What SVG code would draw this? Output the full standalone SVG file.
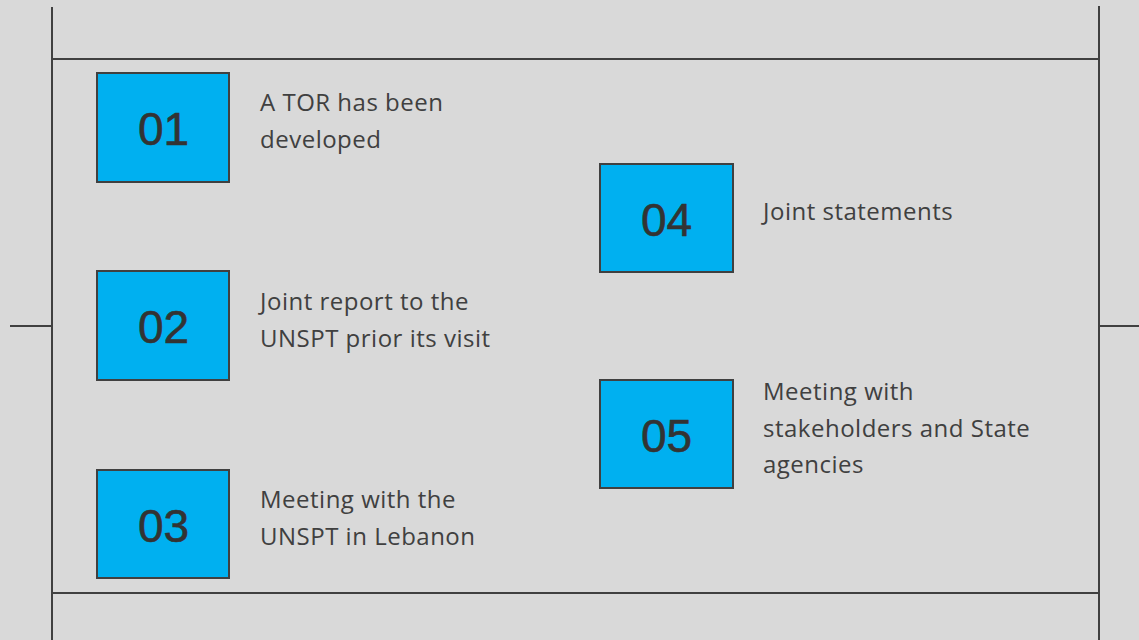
<svg xmlns="http://www.w3.org/2000/svg" width="1139" height="640" viewBox="0 0 1139 640">
<style>
.ln{stroke:#404040;stroke-width:2;fill:none}
.box{fill:#00b0f0;stroke:#404040;stroke-width:2}
.num{font-family:"Liberation Sans","Roboto",sans-serif;font-size:46px;fill:#333;stroke:#333;stroke-width:0.6;text-anchor:middle}
.lbl{font-family:"Open Sans","Noto Sans",sans-serif;font-size:24px;letter-spacing:0.5px;fill:#404040}
</style>
<rect width="1139" height="640" fill="#d9d9d9"/>
<g id="connectors">
<line class="ln" x1="52" y1="7" x2="52" y2="640"/>
<line class="ln" x1="1099" y1="6" x2="1099" y2="640"/>
<line class="ln" x1="52" y1="59" x2="1099" y2="59"/>
<line class="ln" x1="52" y1="593" x2="1099" y2="593"/>
<line class="ln" x1="10" y1="326" x2="52" y2="326"/>
<line class="ln" x1="1099" y1="326" x2="1139" y2="326"/>
</g>
<g id="n01">
<rect class="box" x="97" y="73" width="132" height="109"/>
<text class="num" x="163.5" y="145">01</text>
<text class="lbl" x="260" y="111">A TOR has been</text>
<text class="lbl" x="260" y="148">developed</text>
</g>
<g id="n02">
<rect class="box" x="97" y="271" width="132" height="109"/>
<text class="num" x="163.5" y="343">02</text>
<text class="lbl" x="260" y="310">Joint report to the</text>
<text class="lbl" x="260" y="347">UNSPT prior its visit</text>
</g>
<g id="n03">
<rect class="box" x="97" y="470" width="132" height="108"/>
<text class="num" x="163.5" y="542">03</text>
<text class="lbl" x="260" y="508">Meeting with the</text>
<text class="lbl" x="260" y="545">UNSPT in Lebanon</text>
</g>
<g id="n04">
<rect class="box" x="600" y="164" width="133" height="108"/>
<text class="num" x="666.5" y="236">04</text>
<text class="lbl" x="763" y="220">Joint statements</text>
</g>
<g id="n05">
<rect class="box" x="600" y="380" width="133" height="108"/>
<text class="num" x="666.5" y="452">05</text>
<text class="lbl" x="763" y="400">Meeting with</text>
<text class="lbl" x="763" y="437">stakeholders and State</text>
<text class="lbl" x="763" y="473">agencies</text>
</g>
</svg>
